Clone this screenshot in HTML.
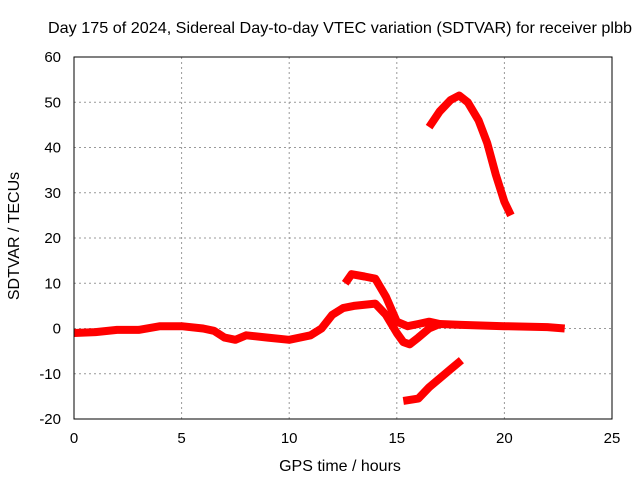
<!DOCTYPE html>
<html><head><meta charset="utf-8"><style>
body{margin:0;background:#fff;}
svg{display:block;font-family:"Liberation Sans",sans-serif;}
</style></head><body>
<svg id="chart" width="640" height="480">
<text x="340" y="33" font-size="16" text-anchor="middle" textLength="584" lengthAdjust="spacingAndGlyphs">Day 175 of 2024, Sidereal Day-to-day VTEC variation (SDTVAR) for receiver plbb</text>
<text x="340" y="471" font-size="16" text-anchor="middle">GPS time / hours</text>
<text transform="translate(19,236) rotate(-90)" font-size="16" text-anchor="middle">SDTVAR / TECUs</text>
<g id="grid"></g><g id="series"></g>
<rect x="74" y="57" width="538" height="362" fill="none" stroke="#000" stroke-width="1"/>
</svg>
<script>
const xTicks=[0,5,10,15,20,25];
const yTicks=[-20,-10,0,10,20,30,40,50,60];
const mainX=[0,1,2,3,4,5,6,6.5,7,7.5,8,9,10,11,11.5,12,12.5,13,14,14.5,15,15.3,15.6,16,16.5,17,18,20,22,22.8];
const mainY=[-1,-0.8,-0.3,-0.3,0.5,0.5,0,-0.5,-2,-2.5,-1.5,-2,-2.5,-1.5,0,3,4.5,5,5.5,3,-1,-3,-3.5,-2,0,1,0.8,0.5,0.3,0];
const upperX=[12.6,12.9,13.5,14,14.5,15,15.5,16,16.5,17];
const upperY=[10,12,11.5,11,7,1.5,0.5,1,1.5,1];
const lowerX=[15.3,16,16.5,17,17.5,18];
const lowerY=[-16,-15.5,-13,-11,-9,-7];
const arcX=[16.5,17,17.5,17.9,18.3,18.8,19.2,19.6,20,20.3];
const arcY=[44.5,48,50.5,51.5,50,46,41,34,28,25];
const ns="http://www.w3.org/2000/svg";
const sx=v=>74+v*538/25, sy=v=>419-(v+20)*362/80;
const grid=document.getElementById('grid');
function mk(t,a,p){const e=document.createElementNS(ns,t);for(const k in a)e.setAttribute(k,a[k]);p.appendChild(e);return e;}
xTicks.forEach(v=>{
  if(v>0&&v<25){const l=mk('line',{x1:sx(v),x2:sx(v),y1:57,y2:419,stroke:'#999','stroke-dasharray':'2,3'},grid);
  
  }
  const t=mk('text',{x:sx(v),y:443,'font-size':15,'text-anchor':'middle'},grid);t.textContent=v;
  
  
});
yTicks.forEach(v=>{
  if(v>-20&&v<60){const l=mk('line',{x1:74,x2:612,y1:sy(v),y2:sy(v),stroke:'#999','stroke-dasharray':'2,3'},grid);
  
  }
  const t=mk('text',{x:61,y:sy(v)+5,'font-size':15,'text-anchor':'end'},grid);t.textContent=v;
  
  
});
const sg=document.getElementById('series');
function line(xs,ys,name){
  const d=xs.map((x,i)=>(i?'L':'M')+sx(x).toFixed(1)+','+sy(ys[i]).toFixed(1)).join('');
  const p=mk('path',{d:d,fill:'none',stroke:'#f00','stroke-width':8,'stroke-linejoin':'round'},sg);
  
  
}
line(mainX,mainY,'main-series');
line(upperX,upperY,'upper-series');
line(lowerX,lowerY,'lower-series');
line(arcX,arcY,'arc-series');
</script>
</body></html>
